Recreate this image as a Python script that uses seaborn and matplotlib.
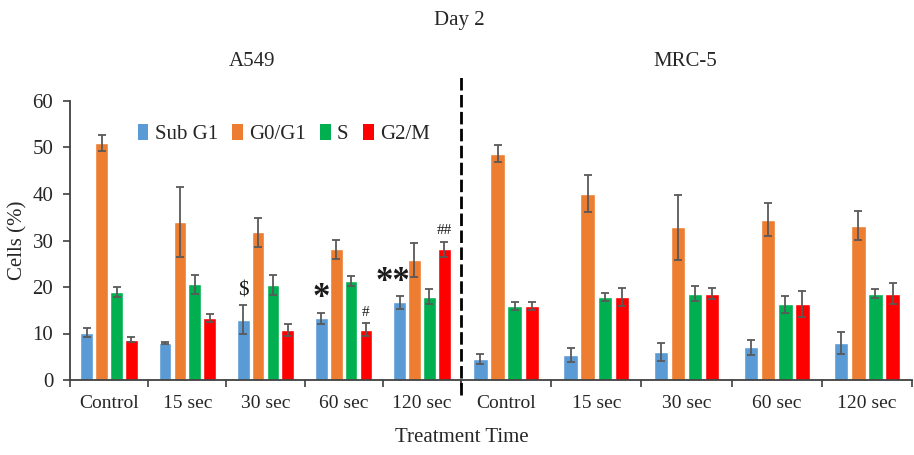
import numpy as np
import pandas as pd
import matplotlib
matplotlib.use("Agg")
import matplotlib.pyplot as plt
from matplotlib.patches import Patch
import seaborn as sns

# ---------------- data ----------------
times = ["Control", "15 sec", "30 sec", "60 sec", "120 sec"]
phases = ["Sub G1", "G0/G1", "S", "G2/M"]
colors = ["#5B9BD5", "#ED7D31", "#00B050", "#FF0000"]

a549_subg1 = [10.2, 8.0, 13.0, 13.3, 16.7]
a549_g0g1 = [51.0, 34.0, 31.8, 28.1, 25.8]
a549_s = [19.0, 20.6, 20.4, 21.3, 17.9]
a549_g2m = [8.7, 13.3, 10.8, 10.8, 28.1]
a549_subg1_err = [1.0, 0.2, 3.2, 1.2, 1.4]
a549_g0g1_err = [1.7, 7.5, 3.1, 2.0, 3.7]
a549_s_err = [1.1, 2.0, 2.2, 1.1, 1.6]
a549_g2m_err = [0.5, 0.9, 1.3, 1.4, 1.6]

mrc5_subg1 = [4.5, 5.4, 6.0, 7.0, 7.9]
mrc5_g0g1 = [48.7, 40.1, 32.8, 34.5, 33.2]
mrc5_s = [15.9, 17.8, 18.6, 16.3, 18.6]
mrc5_g2m = [15.9, 17.8, 18.6, 16.3, 18.6]
mrc5_subg1_err = [1.1, 1.5, 1.9, 1.6, 2.4]
mrc5_g0g1_err = [1.8, 4.0, 7.0, 3.5, 3.2]
mrc5_s_err = [0.8, 0.9, 1.6, 1.8, 1.0]
mrc5_g2m_err = [0.8, 1.9, 1.1, 2.8, 2.3]

# significance marks on A549: (time index, phase index, symbol, fontsize)
marks = [(2, 0, "$", 15), (3, 0, "*", 25), (3, 3, "#", 11),
         (4, 0, "**", 25), (4, 3, "##", 11)]

# ---------------- style ----------------
sns.set_theme(style="white")
plt.rcParams["font.family"] = ["Liberation Serif", "DejaVu Serif"]

def long_df(vals):
    rows = []
    for p, v in zip(phases, vals):
        for t, x in zip(times, v):
            rows.append({"time": t, "phase": p, "value": x})
    return pd.DataFrame(rows)

a549_df = long_df([a549_subg1, a549_g0g1, a549_s, a549_g2m])
mrc5_df = long_df([mrc5_subg1, mrc5_g0g1, mrc5_s, mrc5_g2m])
a549_err = [a549_subg1_err, a549_g0g1_err, a549_s_err, a549_g2m_err]
mrc5_err = [mrc5_subg1_err, mrc5_g0g1_err, mrc5_s_err, mrc5_g2m_err]

fig = plt.figure(figsize=(9.14, 4.55), dpi=100)
L, B, H = 70 / 914, 75 / 455, 279 / 455
ax1 = fig.add_axes([L, B, 391 / 914, H])
ax2 = fig.add_axes([461 / 914, B, 451 / 914, H], sharey=ax1)

spine_c = "#404040"
err_c = "#595959"

for ax, df, errs in [(ax1, a549_df, a549_err), (ax2, mrc5_df, mrc5_err)]:
    sns.barplot(data=df, x="time", y="value", hue="phase", order=times,
                hue_order=phases, palette=colors, saturation=1, width=0.76,
                gap=0.15, errorbar=None, legend=False, ax=ax)
    for cont, e in zip(ax.containers, errs):
        xs = [b.get_x() + b.get_width() / 2 for b in cont]
        hs = [b.get_height() for b in cont]
        ax.errorbar(xs, hs, yerr=e, fmt="none", ecolor=err_c, elinewidth=1.3,
                    capsize=3, capthick=1.3)
    ax.set_xlim(-0.5, 4.5)
    ax.set_ylim(0, 60)
    ax.set_xlabel("")
    ax.set_ylabel("")
    ax.set_xticks(range(len(times)))
    ax.set_xticklabels(times, fontsize=14)
    ax.set_xticks(np.arange(-0.5, len(times), 1), minor=True)
    ax.tick_params(axis="x", which="major", length=0, pad=11)
    ax.tick_params(axis="x", which="minor", length=5, width=1.2,
                   color=spine_c, direction="out", bottom=True)
    for s in ["top", "right"]:
        ax.spines[s].set_visible(False)
    ax.spines["bottom"].set_color(spine_c)
    ax.spines["bottom"].set_linewidth(1.3)

ax1.spines["left"].set_color(spine_c)
ax1.spines["left"].set_linewidth(1.3)
ax1.set_yticks(range(0, 61, 10))
ax1.tick_params(axis="y", length=5, width=1.2, color=spine_c,
                direction="out", left=True, labelsize=15, pad=7)
ax2.spines["left"].set_visible(False)
ax2.tick_params(axis="y", left=False, labelleft=False)

# significance marks
for ti, pi, sym, fs in marks:
    bar = ax1.containers[pi][ti]
    x = bar.get_x() + bar.get_width() / 2
    top = bar.get_height() + a549_err[pi][ti]
    if sym.startswith("*"):
        dx = -0.09 if len(sym) > 1 else 0.0
        ax1.text(x + dx, top - 0.6, sym, ha="center", va="bottom",
                 fontsize=fs, fontweight="bold", color="#1a1a1a")
    else:
        ax1.text(x, top + 1.0, sym, ha="center", va="bottom", fontsize=fs,
                 color="#1a1a1a")

# dashed divider
ax2.axvline(-0.5, ymin=-0.055, ymax=1.085, color="black", lw=2,
            dashes=(4.5, 1.6), clip_on=False)

# legend
handles = [Patch(facecolor=c, edgecolor="none") for c in colors]
ax1.legend(handles, phases, ncol=4, frameon=False, loc="upper left",
           bbox_to_anchor=(138 / 914, 1 - 124 / 455),
           bbox_transform=fig.transFigure, fontsize=15, handlelength=0.5,
           handleheight=0.8, handletextpad=0.3, columnspacing=0.7,
           borderaxespad=0, borderpad=0)

fig.text(459 / 914, 1 - 20 / 455, "Day 2", ha="center", va="center", fontsize=15)
fig.text(252 / 914, 1 - 62 / 455, "A549", ha="center", va="center", fontsize=15)
fig.text(685 / 914, 1 - 62 / 455, "MRC-5", ha="center", va="center", fontsize=15)
fig.text(462 / 914, 1 - 438 / 455, "Treatment Time", ha="center", va="center",
         fontsize=15)
fig.text(18 / 914, 1 - 240 / 455, "Cells (%)", ha="center", va="center",
         rotation=90, fontsize=15)

fig.savefig("out.png", dpi=100)
